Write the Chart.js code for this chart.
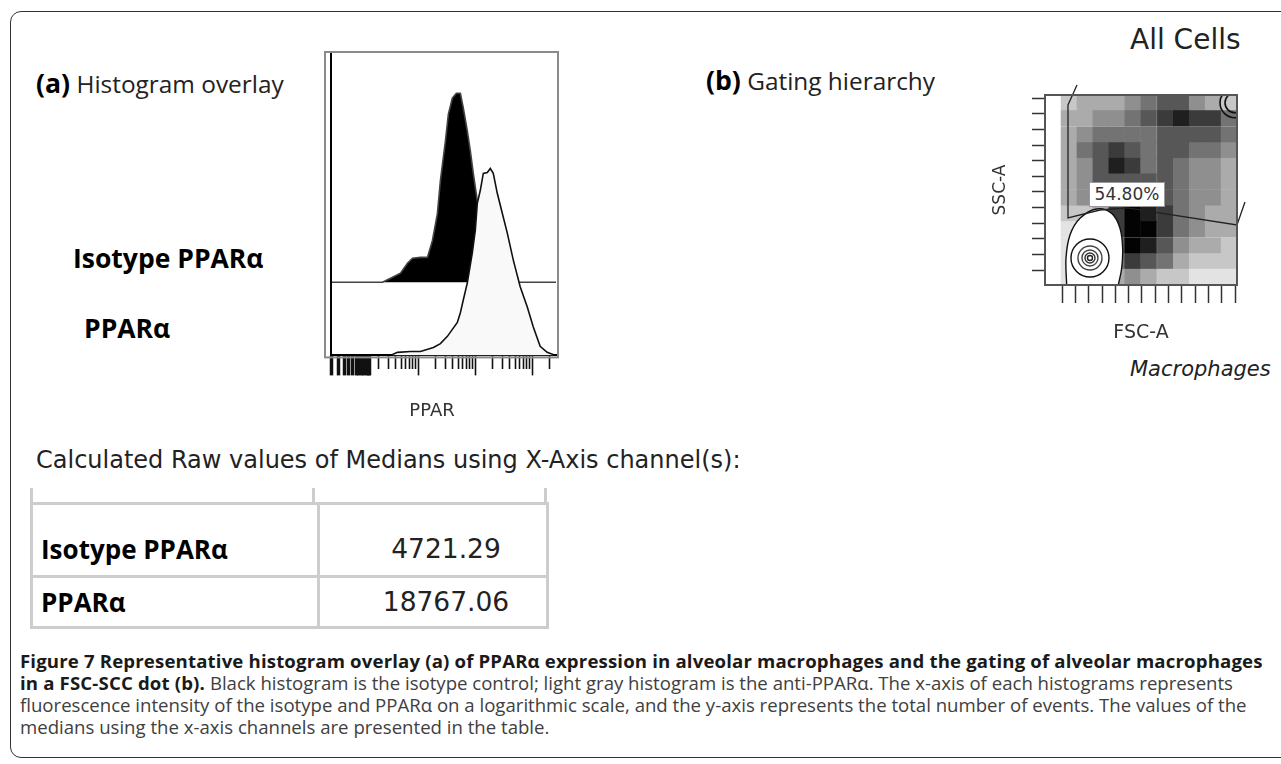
<!DOCTYPE html>
<html>
<head>
<meta charset="utf-8">
<script src="https://cdn.jsdelivr.net/npm/chart.js@4.4.0/dist/chart.umd.min.js"></script>
<style>
  body { margin: 0; width: 1281px; height: 764px; background: #fff; position: relative; overflow: hidden; font-family: "Open Sans", sans-serif; color: #111; }
  .frame { position: absolute; left: 10px; top: 11px; width: 1320px; height: 745px; border: 1.5px solid #333; border-radius: 11px; }
  .abs { position: absolute; white-space: nowrap; }
  .panel { font-size: 24.4px; line-height: 28px; color: #222; }
  .panel b { font-size: 26.6px; color: #000; }
  .lbl { font-weight: bold; font-size: 26.5px; line-height: 28px; color: #000; }
  .verd { font-family: "DejaVu Sans", Verdana, sans-serif; color: #222; }
  .box { position: absolute; }
  #medianTable { border-collapse: collapse; }
  #medianTable td { border: 3px solid #cdcdcd; padding: 0; vertical-align: bottom; }
  #medianTable td.name { width: 276px; font-weight: bold; font-size: 26px; line-height: 30px; padding-left: 8px; color: #000; }
  #medianTable td.val { width: 200px; padding-left: 26px; font-family: "DejaVu Sans", sans-serif; font-size: 26.5px; line-height: 30px; color: #222; text-align: center; }
  .stub { position: absolute; width: 3px; height: 16px; background: #cdcdcd; top: 488px; }
  .gateLabel { position: absolute; left: 1089px; top: 182px; width: 74px; height: 23px; border: 1px solid #999; background: #fff; font-family: "DejaVu Sans", sans-serif; font-size: 17px; line-height: 23px; color: #333; text-align: center; }
  .caption { position: absolute; left: 20px; top: 650px; font-size: 18.6px; line-height: 22px; color: #404040; white-space: nowrap; }
  .caption b { color: #1a1a1a; letter-spacing: 0.16px; }
</style>
</head>
<body>
<div class="frame"></div>

<div class="abs panel" style="left:36px; top:69px;"><b>(a)</b> Histogram overlay</div>
<div class="abs panel" style="left:706px; top:66px;"><b>(b)</b> Gating hierarchy</div>
<div class="abs verd" style="left:1130px; top:23px; font-size:28px;">All Cells</div>
<div class="abs lbl" style="left:73px; top:244px;">Isotype PPARα</div>
<div class="abs lbl" style="left:84px; top:314px;">PPARα</div>
<div class="abs verd" style="left:1130px; top:357px; font-size:21px; font-style:italic;">Macrophages</div>
<div class="abs verd" style="left:36px; top:446px; font-size:24px;">Calculated Raw values of Medians using X-Axis channel(s):</div>

<div class="box" style="left:300px; top:30px; width:280px; height:400px;"><canvas id="histChart"></canvas></div>
<div class="box" style="left:980px; top:60px; width:290px; height:300px;"><canvas id="dotChart"></canvas></div>
<div class="gateLabel">54.80%</div>

<div class="stub" style="left:30px;"></div>
<div class="stub" style="left:312px;"></div>
<div class="stub" style="left:544px;"></div>
<table id="medianTable" class="abs" style="left:30px; top:502px;"></table>

<div class="caption">
<b>Figure 7 Representative histogram overlay (a) of PPARα expression in alveolar macrophages and the gating of alveolar macrophages</b><br>
<b>in a FSC-SCC dot (b).</b> Black histogram is the isotype control; light gray histogram is the anti-PPARα. The x-axis of each histograms represents<br>
fluorescence intensity of the isotype and PPARα on a logarithmic scale, and the y-axis represents the total number of events. The values of the<br>
medians using the x-axis channels are presented in the table.
</div>

<script>
// Panel (a) - PPAR channel (log scale) vs event counts
const isotypeChannel = [29, 233, 323, 483, 641, 785, 1084, 1439, 1762, 2154, 2432, 2979, 3359, 3947, 4642, 5458, 6155, 7238, 8170, 9220, 10837, 12240, 14970, 18330, 22430, 27480, 262144];
const isotypeCounts = [0, 0, 1.3, 3.0, 6.3, 7.9, 8.2, 8.2, 13.8, 22.7, 33.6, 46.7, 55.6, 60.9, 62.5, 62.5, 57.6, 50, 43.4, 35.9, 27, 20.4, 12.2, 5.6, 1.3, 0, 0];
const pparChannel = [350, 428, 724, 1084, 1833, 2432, 3228, 3947, 4830, 5458, 6155, 7238, 8850, 10000, 10837, 12240, 13810, 16250, 18330, 20700, 24330, 29790, 36410, 46440, 61530, 81700, 104300, 138000, 183200, 233500];
const pparCounts = [0.3, 1.0, 1.3, 1.3, 2.6, 3.9, 6.3, 8.6, 10.9, 14.1, 18.4, 24, 33.9, 41.4, 50.3, 54.6, 60.2, 60.5, 61.8, 60.2, 53.6, 47, 40.5, 31.6, 22.7, 16.1, 9.5, 3.0, 1.0, 0.3];
const isotypeOffset = 24.2;   // isotype trace sits above the PPARa one

// Table of medians
const sampleNames = ['Isotype PPARα', 'PPARα'];
const medianValues = ['4721.29', '18767.06'];

// Panel (b) - FSC-A / SSC-A dot plot (units of 1000)
const fscTicks = [0, 20, 40, 60, 80, 100, 120, 140, 160, 180, 200, 220, 240, 260];
const sscTicks = [0, 20, 40, 60, 80, 100, 120, 140, 160, 180, 200, 220];
const gridFsc = [-14, 10, 34, 58, 82, 106, 130, 155, 179, 203, 227, 251];
const gridSsc = [214, 194, 173, 153, 133, 113, 92, 72, 52, 31, 11, -9];
// event density per cell, 0 (none) .. 9 (solid), rows from top
const density = [
  [0, 2, 3, 3, 3, 4, 5, 6, 6, 4, 3, 2],
  [0, 3, 3, 4, 4, 5, 6, 7, 8, 7, 7, 5],
  [0, 3, 4, 5, 5, 5, 5, 6, 6, 6, 6, 5],
  [0, 3, 5, 6, 7, 6, 5, 6, 6, 5, 5, 4],
  [0, 3, 4, 6, 8, 7, 5, 6, 5, 4, 4, 3],
  [0, 3, 4, 6, 6, 6, 6, 6, 5, 4, 4, 3],
  [0, 3, 4, 5, 6, 7, 7, 6, 5, 4, 4, 3],
  [0, 2, 2, 3, 7, 9, 8, 7, 5, 4, 3, 3],
  [0, 1, 0, 0, 7, 9, 9, 7, 5, 4, 3, 3],
  [0, 1, 0, 0, 6, 9, 8, 6, 4, 3, 3, 2],
  [0, 1, 0, 0, 5, 7, 6, 5, 3, 2, 2, 2],
  [0, 1, 0, 0, 3, 4, 3, 2, 2, 1, 1, 1]
];
const eggFsc = [6.6, 5.6, 11.6, 26.7, 51.8, 74.4, 86.9, 90.9, 89.4, 84.3];
const eggSsc = [-19.2, 15, 44.8, 66.2, 78.1, 72.5, 53.4, 27.8, 2.2, -19.2];
const coreFsc = [41.7];
const coreSsc = [15.4];
const cornerFsc = [260];
const cornerSsc = [214];
const gateFsc = [22.2, 8.6, 8.6, 56.8, 97.4, 263, 275];
const gateSsc = [236.8, 211.2, 66.6, 76.8, 79.4, 57.6, 87];

const xy = (xs, ys) => xs.map((x, i) => ({ x: x, y: ys[i] }));

// Fill the medians table
document.getElementById('medianTable').innerHTML = sampleNames.map((n, i) =>
  `<tr style="height:${i === 0 ? 73 : 51}px"><td class="name" style="padding-bottom:${i === 0 ? 11 : 9}px">${n}</td>` +
  `<td class="val" style="padding-bottom:${i === 0 ? 11 : 9}px">${medianValues[i]}</td></tr>`
).join('');

// Frame around a plot area
const framePlugin = {
  id: 'frame',
  afterDraw(chart, args, opts) {
    const { ctx, chartArea: a } = chart;
    const p = opts.pad;
    ctx.save();
    ctx.strokeStyle = opts.color;
    ctx.lineWidth = opts.width;
    ctx.strokeRect(a.left - p[0], a.top - p[1], a.right - a.left + p[0] + p[2], a.bottom - a.top + p[1] + p[3]);
    if (opts.innerLeft) {
      ctx.strokeStyle = '#000';
      ctx.lineWidth = 2;
      ctx.beginPath();
      ctx.moveTo(a.left, a.top);
      ctx.lineTo(a.left, a.bottom);
      ctx.stroke();
    }
    ctx.restore();
  }
};

// Histogram overlay
new Chart(document.getElementById('histChart'), {
  type: 'line',
  data: {
    datasets: [{
      label: 'PPARα',
      data: xy(pparChannel, pparCounts),
      yAxisID: 'y',
      borderColor: '#111',
      borderWidth: 1.6,
      backgroundColor: '#f9f9f9',
      fill: 'origin',
      pointRadius: 0,
      order: 0
    }, {
      label: 'Isotype PPARα',
      data: xy(isotypeChannel, isotypeCounts),
      yAxisID: 'y2',
      borderColor: '#444',
      borderWidth: 1.6,
      backgroundColor: '#000',
      fill: 'origin',
      pointRadius: 0,
      order: 1
    }]
  },
  options: {
    responsive: true,
    maintainAspectRatio: false,
    animation: false,
    events: [],
    layout: { padding: { left: 31, right: 24, top: 23, bottom: 4 } },
    plugins: {
      legend: { display: false },
      tooltip: { enabled: false },
      frame: { color: '#8a8a8a', width: 2, pad: [6, 1, 2, 2], innerLeft: true }
    },
    scales: {
      x: {
        type: 'logarithmic',
        min: 29,
        max: 262144,
        afterBuildTicks: scale => {
          const ticks = [];
          for (let k = 1; k <= 5; k++) {
            for (let m = 1; m <= 9; m++) {
              const v = m * Math.pow(10, k);
              if (v >= 30 && v <= 262144) ticks.push({ value: v, major: m === 1 });
            }
          }
          [110, 120, 130, 140].forEach(v => ticks.push({ value: v, major: false }));
          scale.ticks = ticks;
        },
        ticks: { display: false, autoSkip: false },
        grid: {
          drawOnChartArea: false,
          tickLength: 20,
          tickColor: '#111',
          tickWidth: c => (c.tick && c.tick.value <= 145 ? 3.5 : 1.6),
          tickBorderDash: c => (c.tick && (c.tick.major || c.tick.value <= 145) ? [] : [13, 40])
        },
        border: { display: true, color: '#000', width: 2 },
        title: {
          display: true,
          text: 'PPAR    ',
          color: '#333',
          font: { family: 'DejaVu Sans', size: 18 },
          padding: { top: 25, bottom: 4 }
        }
      },
      y: { display: false, min: 0, max: 100 },
      y2: { display: false, min: -isotypeOffset, max: 100 - isotypeOffset }
    }
  },
  plugins: [framePlugin]
});

// Dot plot cells
const shade = d => {
  const v = Math.max(0, Math.round(255 - d * 28));
  return `rgb(${v},${v},${v})`;
};
const cells = [];
density.forEach((row, r) => row.forEach((d, c) => cells.push({ x: gridFsc[c], y: gridSsc[r], d: d })));
const coreRadii = [19, 12, 8, 5, 2.5];
const cornerRadii = [15, 10];

new Chart(document.getElementById('dotChart'), {
  type: 'scatter',
  data: {
    datasets: [{
      label: 'gate',
      data: xy(gateFsc, gateSsc),
      showLine: true,
      borderColor: '#222',
      borderWidth: 1.3,
      pointRadius: 0,
      clip: false,
      order: 0
    }, {
      label: 'core contours',
      data: coreRadii.map(() => ({ x: coreFsc[0], y: coreSsc[0] })),
      pointRadius: coreRadii,
      pointBackgroundColor: 'rgba(0,0,0,0)',
      pointBorderColor: ['#111', '#444', '#444', '#333', '#222'],
      pointBorderWidth: 1.4,
      order: 1
    }, {
      label: 'corner contours',
      data: cornerRadii.map(() => ({ x: cornerFsc[0], y: cornerSsc[0] })),
      pointRadius: cornerRadii,
      pointBackgroundColor: 'rgba(0,0,0,0)',
      pointBorderColor: '#111',
      pointBorderWidth: 1.6,
      order: 1
    }, {
      label: 'outer contour',
      data: xy(eggFsc, eggSsc),
      showLine: true,
      tension: 0.35,
      fill: 'shape',
      backgroundColor: '#fff',
      borderColor: '#111',
      borderWidth: 1.4,
      pointRadius: 0,
      order: 2
    }, {
      label: 'events',
      data: cells,
      pointStyle: 'rect',
      pointRadius: 11.6,
      pointBorderWidth: 0,
      pointBackgroundColor: c => shade(c.raw ? c.raw.d : 0),
      order: 3
    }]
  },
  options: {
    responsive: true,
    maintainAspectRatio: false,
    animation: false,
    events: [],
    layout: { padding: { left: 8, right: 33, top: 35, bottom: 13.6 } },
    plugins: {
      legend: { display: false },
      tooltip: { enabled: false },
      frame: { color: '#555', width: 2, pad: [0, 0, 0, 0], innerLeft: false }
    },
    scales: {
      x: {
        type: 'linear',
        min: -26,
        max: 263,
        afterBuildTicks: scale => { scale.ticks = fscTicks.map(v => ({ value: v })); },
        ticks: { display: false },
        grid: { drawOnChartArea: false, tickLength: 18, tickColor: '#333', tickWidth: 1.5 },
        border: { display: false },
        title: {
          display: true,
          text: 'FSC-A',
          color: '#333',
          font: { family: 'DejaVu Sans', size: 19 },
          padding: { top: 18.6, bottom: 2 }
        }
      },
      y: {
        type: 'linear',
        min: -19.2,
        max: 224,
        afterBuildTicks: scale => { scale.ticks = sscTicks.map(v => ({ value: v })); },
        ticks: { display: false },
        grid: { drawOnChartArea: false, tickLength: 13, tickColor: '#333', tickWidth: 1.5 },
        border: { display: false },
        title: {
          display: true,
          text: 'SSC-A',
          color: '#333',
          font: { family: 'DejaVu Sans', size: 17 },
          padding: { top: 2, bottom: 21.6 }
        }
      }
    }
  },
  plugins: [framePlugin]
});
</script>
</body>
</html>
